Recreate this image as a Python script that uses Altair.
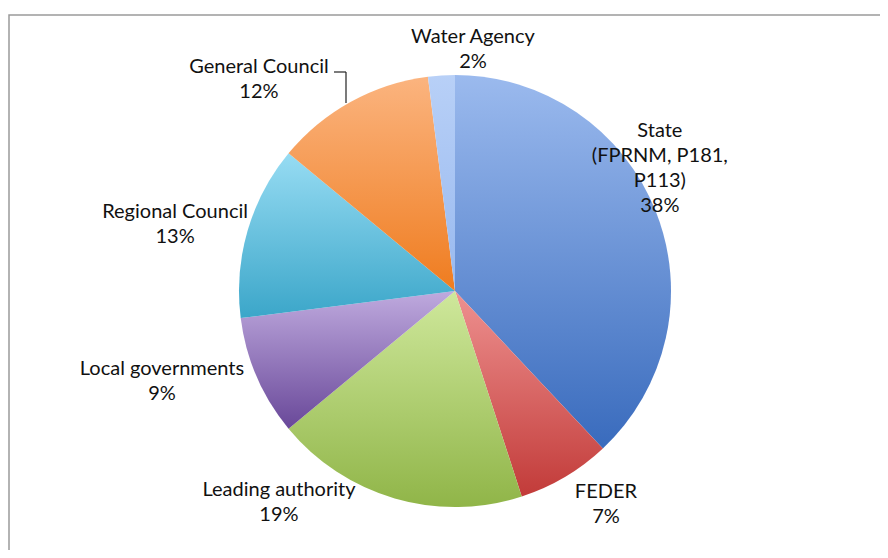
import altair as alt
import pandas as pd

# ---- data ----
categories = ["State", "FEDER", "Leading authority", "Local governments",
              "Regional Council", "General Council", "Water Agency"]
values = [38, 7, 19, 9, 13, 12, 2]
label_texts = ["State\n(FPRNM, P181,\nP113)\n38%", "FEDER\n7%", "Leading authority\n19%",
               "Local governments\n9%", "Regional Council\n13%", "General Council\n12%",
               "Water Agency\n2%"]

# ---- styling / layout (not data) ----
grad_top = ["#9BBAEE", "#EE9190", "#CFE89C", "#BFAADE", "#97DCF3", "#FBB47F", "#B8D0F7"]
grad_bot = ["#396BBD", "#C23B39", "#90B548", "#694899", "#3BA6C9", "#EF7C1F", "#98B9EF"]
label_angle_deg = [52.0, 143.1, 221.5, 255.1, 285.8, 318.8, 4.05]
label_dist_px = [260.0, 251.4, 265.7, 303.2, 290.9, 297.6, 254.6]

CX, CY, R = 447, 283, 216
FONT = "Lato"
FS = 20

df = pd.DataFrame({
    "order": list(range(len(categories))),
    "category": categories,
    "value": values,
    "label": label_texts,
    "ldeg": label_angle_deg,
    "ldist": label_dist_px,
})

base = alt.Chart(df).transform_window(
    end="sum(value)", sort=[alt.SortField("order")], frame=[None, 0]
).transform_calculate(start="datum.end - datum.value")

layers = []
for i, cat in enumerate(categories):
    grad = alt.LinearGradient(
        gradient="linear", x1=0, y1=0, x2=0, y2=1,
        stops=[alt.GradientStop(offset=0, color=grad_top[i]),
               alt.GradientStop(offset=1, color=grad_bot[i])],
    )
    layers.append(
        base.transform_filter(alt.datum.category == cat)
        .mark_arc(radius=R, x=CX, y=CY, fill=grad, strokeWidth=0)
        .encode(
            theta=alt.Theta("start:Q", scale=alt.Scale(domain=[0, 100], range=[0, 6.283185307])),
            theta2="end:Q",
        )
    )

labels = alt.Chart(df).transform_calculate(
    lrad="datum.ldeg * PI / 180"
).mark_text(
    x=CX, y=CY, align="center", baseline="middle", font=FONT, fontSize=FS,
    lineBreak="\n", lineHeight=25, color="#111111",
).encode(
    theta=alt.Theta("lrad:Q", scale=None),
    radius=alt.Radius("ldist:Q", scale=None),
    text="label:N",
)

one = pd.DataFrame({"k": [0]})
leader_h = alt.Chart(one).mark_rule(color="#222", strokeWidth=1.2).encode(
    x=alt.value(326), x2=alt.value(338), y=alt.value(64))
leader_v = alt.Chart(one).mark_rule(color="#222", strokeWidth=1.2).encode(
    x=alt.value(338), y=alt.value(64), y2=alt.value(95))
frame = alt.Chart(one).mark_rect(fill="white", stroke="#9a9a9a", strokeWidth=1.5).encode(
    x=alt.value(1), x2=alt.value(876), y=alt.value(7), y2=alt.value(620))

chart = alt.layer(frame, *layers, labels, leader_h, leader_v).resolve_scale(
    theta="independent"
).properties(
    width=872, height=542, padding=0, autosize=alt.AutoSizeParams(type="none"),
    background="white",
).configure_view(stroke=None)

chart.save("out.html", embed_options={"renderer": "svg", "actions": False})
